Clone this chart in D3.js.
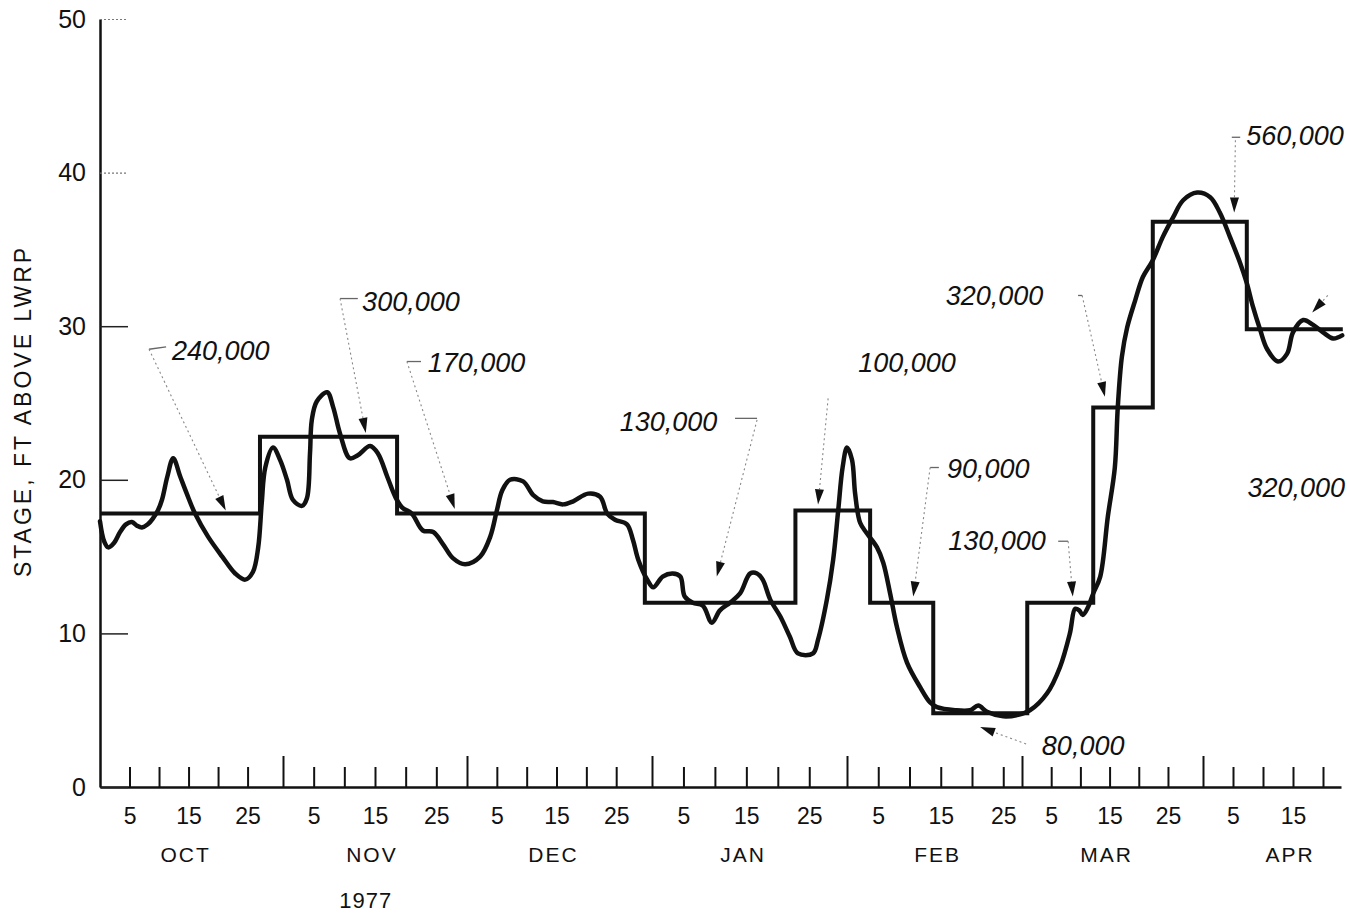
<!DOCTYPE html>
<html>
<head>
<meta charset="utf-8">
<script src="https://cdn.jsdelivr.net/npm/d3@7"></script>
<style>
  html, body { margin: 0; padding: 0; background: #fff; }
  svg { display: block; overflow: hidden; }
  text { font-family: "Liberation Sans", Arial, sans-serif; fill: #111; }
</style>
</head>
<body>
<svg id="chart" width="1350" height="916"></svg>
<script>
// season 1977-78, day 0 = Sep 30
const months = ['OCT', 'NOV', 'DEC', 'JAN', 'FEB', 'MAR', 'APR'];
const monthStart = [0, 31, 61, 92, 123, 151, 182];
const seasonEnd = 205; // Apr 23
const dayTicks = [5, 10, 15, 20, 25];
const dayLabels = [5, 15, 25];
const yTicks = [0, 10, 20, 30, 40, 50];
const yearLabel = '1977';

// observed stage hydrograph, [month, day, stage ft]
const stageCurve = [
  ['OCT', 0.0, 17.3], ['OCT', 0.7, 16.0], ['OCT', 1.4, 15.6], ['OCT', 2.4, 15.9], ['OCT', 3.4, 16.6],
  ['OCT', 4.4, 17.1], ['OCT', 5.4, 17.25], ['OCT', 6.3, 17.0], ['OCT', 7.1, 16.9], ['OCT', 8.1, 17.1],
  ['OCT', 9.0, 17.5], ['OCT', 9.8, 18.0], ['OCT', 10.5, 18.7], ['OCT', 11.4, 20.2], ['OCT', 12.4, 21.4],
  ['OCT', 13.6, 20.2], ['OCT', 14.7, 19.1], ['OCT', 16.1, 17.8], ['OCT', 18.3, 16.3], ['OCT', 20.7, 15.0],
  ['OCT', 22.9, 13.9], ['OCT', 24.6, 13.5], ['OCT', 25.9, 14.0], ['OCT', 26.8, 15.6], ['OCT', 27.4, 18.5],
  ['OCT', 28.0, 20.8], ['OCT', 29.3, 22.1], ['OCT', 30.5, 21.3],
  ['NOV', 0.65, 20.0], ['NOV', 1.6, 18.7], ['NOV', 3.1, 18.3], ['NOV', 3.9, 18.8], ['NOV', 4.4, 21.7],
  ['NOV', 4.7, 23.9], ['NOV', 5.5, 25.1], ['NOV', 7.2, 25.7], ['NOV', 8.2, 24.7], ['NOV', 9.3, 23.0],
  ['NOV', 10.9, 21.4], ['NOV', 12.2, 21.6], ['NOV', 14.2, 22.2], ['NOV', 15.5, 21.7], ['NOV', 17.0, 20.2],
  ['NOV', 18.3, 18.9], ['NOV', 19.4, 18.2], ['NOV', 21.0, 17.8], ['NOV', 22.8, 16.7], ['NOV', 24.5, 16.6],
  ['NOV', 26.1, 15.8], ['NOV', 27.7, 14.9], ['NOV', 29.7, 14.5],
  ['DEC', 2.2, 15.0], ['DEC', 3.9, 16.3], ['DEC', 5.0, 18.0], ['DEC', 5.9, 19.3], ['DEC', 7.2, 20.0],
  ['DEC', 9.4, 19.9], ['DEC', 11.1, 19.0], ['DEC', 12.7, 18.6], ['DEC', 14.4, 18.55], ['DEC', 16.1, 18.4],
  ['DEC', 17.8, 18.6], ['DEC', 20.3, 19.1], ['DEC', 22.3, 18.9], ['DEC', 23.5, 17.8], ['DEC', 24.8, 17.4],
  ['DEC', 26.8, 17.1], ['DEC', 27.8, 16.1], ['DEC', 28.7, 14.8], ['DEC', 30.2, 13.5],
  ['JAN', 0.2, 13.0], ['JAN', 1.7, 13.7], ['JAN', 3.3, 13.9], ['JAN', 4.5, 13.7], ['JAN', 5.2, 12.4],
  ['JAN', 6.5, 12.0], ['JAN', 8.1, 11.8], ['JAN', 9.5, 10.7], ['JAN', 10.8, 11.5], ['JAN', 12.4, 12.0],
  ['JAN', 14.0, 12.6], ['JAN', 15.6, 13.9], ['JAN', 16.7, 13.9], ['JAN', 17.6, 13.5], ['JAN', 18.8, 12.2],
  ['JAN', 20.4, 11.1], ['JAN', 21.9, 9.8], ['JAN', 23.2, 8.7], ['JAN', 25.6, 8.7], ['JAN', 26.4, 9.6],
  ['JAN', 27.8, 12.2], ['JAN', 28.8, 14.8], ['JAN', 29.6, 18.0], ['JAN', 30.3, 20.8],
  ['FEB', 0.0, 22.1], ['FEB', 0.8, 21.3], ['FEB', 1.3, 19.1], ['FEB', 2.1, 17.2], ['FEB', 3.2, 16.5],
  ['FEB', 4.8, 15.6], ['FEB', 5.8, 14.6], ['FEB', 6.9, 12.6], ['FEB', 8.0, 10.4], ['FEB', 9.6, 8.1],
  ['FEB', 11.7, 6.5], ['FEB', 13.3, 5.5], ['FEB', 14.4, 5.2], ['FEB', 17.3, 5.0], ['FEB', 19.7, 5.0],
  ['FEB', 21.0, 5.3], ['FEB', 22.4, 4.9], ['FEB', 25.0, 4.6], ['FEB', 27.4, 4.7],
  ['MAR', 1.4, 5.0], ['MAR', 4.3, 6.1], ['MAR', 6.5, 7.8], ['MAR', 8.2, 10.0], ['MAR', 9.1, 11.6],
  ['MAR', 9.8, 11.5], ['MAR', 10.4, 11.2], ['MAR', 11.3, 11.7], ['MAR', 12.2, 12.6], ['MAR', 13.4, 13.7],
  ['MAR', 14.7, 17.6], ['MAR', 15.9, 20.8], ['MAR', 16.4, 24.7], ['MAR', 17.1, 28.0], ['MAR', 18.0, 29.9],
  ['MAR', 19.4, 31.7], ['MAR', 20.7, 33.2], ['MAR', 22.4, 34.3], ['MAR', 24.1, 35.8], ['MAR', 25.9, 37.1],
  ['MAR', 27.6, 38.2], ['MAR', 30.0, 38.7],
  ['APR', 1.2, 38.4], ['APR', 2.8, 37.4], ['APR', 4.5, 35.8], ['APR', 6.2, 34.1], ['APR', 7.3, 32.8],
  ['APR', 8.3, 31.3], ['APR', 9.5, 29.8], ['APR', 10.7, 28.5], ['APR', 12.5, 27.7], ['APR', 14.0, 28.2],
  ['APR', 15.0, 29.6], ['APR', 16.7, 30.4], ['APR', 18.3, 30.1], ['APR', 20.0, 29.6], ['APR', 21.7, 29.2],
  ['APR', 23.2, 29.4]
];

// stepped stage for each steady-flow period
const stepStart = [
  ['OCT', 0], ['OCT', 27.1], ['NOV', 18.6], ['DEC', 29.8], ['JAN', 22.8], ['FEB', 3.7],
  ['FEB', 13.8], ['MAR', 0.9], ['MAR', 12.2], ['MAR', 22.4], ['APR', 7.3]
];
const stepEnd = ['APR', 23.3];
const stepStage = [17.8, 22.8, 17.8, 12.0, 18.0, 12.0, 4.8, 12.0, 24.7, 36.8, 29.8];

// discharge of each period, cfs
const flowLabels = ['240,000', '300,000', '170,000', '130,000', '100,000', '90,000',
  '130,000', '320,000', '560,000', '320,000', '80,000'];

// where each label and its pointer sit, in [month, day, stage]
const flowNotes = [
  { at: ['OCT', 12.2, 27.8], hook: [['OCT', 8.3, 28.5], ['OCT', 11.2, 28.65]], from: ['OCT', 8.3, 28.5], to: ['OCT', 21.3, 18.0] },
  { at: ['NOV', 12.9, 31.0], hook: [['NOV', 9.3, 31.8], ['NOV', 12.2, 31.8]], from: ['NOV', 9.3, 31.8], to: ['NOV', 13.5, 23.05] },
  { at: ['NOV', 23.6, 27.0], hook: [['NOV', 20.2, 27.7], ['NOV', 22.5, 27.7]], from: ['NOV', 20.2, 27.7], to: ['NOV', 28.0, 18.1] },
  { at: ['DEC', 25.6, 23.2], hook: [['JAN', 13.2, 24.0], ['JAN', 16.7, 24.0]], from: ['JAN', 16.7, 23.9], to: ['JAN', 10.3, 13.7] },
  { at: ['FEB', 1.8, 27.0], hook: null, from: ['JAN', 28.0, 25.3], to: ['JAN', 26.4, 18.4] },
  { at: ['FEB', 16.0, 20.1], hook: [['FEB', 13.3, 20.8], ['FEB', 14.7, 20.8]], from: ['FEB', 13.3, 20.8], to: ['FEB', 10.6, 12.4] },
  { at: ['FEB', 16.2, 15.4], hook: [['MAR', 6.2, 16.0], ['MAR', 7.9, 16.0]], from: ['MAR', 7.9, 16.0], to: ['MAR', 8.7, 12.4] },
  { at: ['FEB', 15.8, 31.4], hook: [['MAR', 9.6, 32.0], ['MAR', 10.3, 32.0]], from: ['MAR', 10.3, 32.0], to: ['MAR', 14.2, 25.4] },
  { at: ['APR', 7.2, 41.8], hook: [['APR', 4.8, 42.3], ['APR', 6.2, 42.3]], from: ['APR', 5.4, 42.1], to: ['APR', 5.2, 37.4] },
  { at: ['APR', 7.4, 18.9], hook: null, from: ['APR', 20.8, 32.0], to: ['APR', 18.2, 30.9] },
  { at: ['MAR', 3.4, 2.1], hook: null, from: ['MAR', 0.7, 2.8], to: ['FEB', 21.3, 3.9] }
];

const svg = d3.select('#chart');
svg.append('rect').attr('width', 1350).attr('height', 916).attr('fill', '#fff');

const x = d3.scaleLinear()
  .domain([...monthStart, seasonEnd])
  .range([100, 283, 467, 652, 847, 1022, 1203, 1341]);
const y = d3.scaleLinear().domain([0, 50]).range([787, 19]);

const day = (m, d) => monthStart[months.indexOf(m)] + d;
const pt = (p) => [x(day(p[0], p[1])), y(p[2])];

// x axis: 5-day ticks, taller ticks at month ends
const ticks = [];
months.forEach((m, i) => {
  const len = (i < months.length - 1 ? monthStart[i + 1] : seasonEnd) - monthStart[i];
  dayTicks.forEach((d) => { if (d < len) ticks.push({ v: monthStart[i] + d, d: d, major: false }); });
  if (i < months.length - 1) ticks.push({ v: monthStart[i + 1], d: null, major: true });
});

const xAxis = svg.append('g')
  .attr('transform', `translate(0,${y(0)})`)
  .call(d3.axisBottom(x)
    .tickValues(ticks.map((t) => t.v))
    .tickSize(-20)
    .tickSizeOuter(0)
    .tickPadding(21)
    .tickFormat((v) => {
      const t = ticks.find((k) => k.v === v);
      return t && dayLabels.includes(t.d) ? t.d : '';
    }));
xAxis.select('.domain').attr('stroke', '#111').attr('stroke-width', 2.5);
xAxis.selectAll('.tick line')
  .attr('stroke', '#111').attr('stroke-width', 2)
  .attr('y2', (v) => (ticks.find((k) => k.v === v).major ? -31 : -20));
xAxis.selectAll('.tick text')
  .attr('font-size', 23).attr('font-family', '"Liberation Sans", Arial, sans-serif').attr('fill', '#111');

// month names under the day labels
svg.append('g').selectAll('text')
  .data(months)
  .join('text')
  .attr('x', (m) => x(day(m, 14.5)))
  .attr('y', 862)
  .attr('text-anchor', 'middle')
  .attr('font-size', 21)
  .attr('letter-spacing', 2)
  .text((m) => m);

svg.append('text')
  .attr('x', x(day('NOV', 13.5)))
  .attr('y', 908)
  .attr('text-anchor', 'middle')
  .attr('font-size', 22)
  .attr('letter-spacing', 1)
  .text(yearLabel);

// y axis
const yAxis = svg.append('g')
  .attr('transform', `translate(${x(0)},0)`)
  .call(d3.axisLeft(y).tickValues(yTicks).tickSize(-28).tickSizeOuter(0).tickPadding(14));
yAxis.select('.domain').attr('stroke', '#111').attr('stroke-width', 2.5);
yAxis.selectAll('.tick line')
  .attr('stroke', (v) => (v >= 40 ? '#777' : '#222'))
  .attr('stroke-width', (v) => (v >= 40 ? 1.2 : 1.5))
  .attr('stroke-dasharray', (v) => (v >= 40 ? '2 2' : null));
yAxis.selectAll('.tick text')
  .attr('font-size', 25).attr('font-family', '"Liberation Sans", Arial, sans-serif').attr('fill', '#111');

svg.append('text')
  .attr('transform', `translate(31,411) rotate(-90)`)
  .attr('text-anchor', 'middle')
  .attr('font-size', 23)
  .attr('letter-spacing', 3)
  .text('STAGE, FT ABOVE LWRP');

// stepped mean stage
const steps = stepStart.map((s, i) => [s[0], s[1], stepStage[i]]);
steps.push([stepEnd[0], stepEnd[1], stepStage[stepStage.length - 1]]);
svg.append('path')
  .datum(steps)
  .attr('fill', 'none')
  .attr('stroke', '#111')
  .attr('stroke-width', 4)
  .attr('d', d3.line().x((d) => pt(d)[0]).y((d) => pt(d)[1]).curve(d3.curveStepAfter));

// observed stage
svg.append('path')
  .datum(stageCurve)
  .attr('fill', 'none')
  .attr('stroke', '#111')
  .attr('stroke-width', 4.5)
  .attr('stroke-linejoin', 'round')
  .attr('stroke-linecap', 'round')
  .attr('d', d3.line().x((d) => pt(d)[0]).y((d) => pt(d)[1]).curve(d3.curveCatmullRom.alpha(0.5)));

// discharge labels with their pointers
const notes = svg.append('g');
flowNotes.forEach((n, i) => {
  const a = pt(n.at);
  notes.append('text')
    .attr('x', a[0]).attr('y', a[1])
    .attr('font-size', 27)
    .attr('font-style', 'italic')
    .attr('fill', '#1a1a1a')
    .text(flowLabels[i]);

  if (n.hook) {
    const h0 = pt(n.hook[0]), h1 = pt(n.hook[1]);
    notes.append('line')
      .attr('x1', h0[0]).attr('y1', h0[1]).attr('x2', h1[0]).attr('y2', h1[1])
      .attr('stroke', '#666').attr('stroke-width', 1.3);
  }

  const s = pt(n.from), t = pt(n.to);
  const dx = t[0] - s[0], dy = t[1] - s[1];
  const len = Math.hypot(dx, dy);
  const ux = dx / len, uy = dy / len;
  const L = Math.min(15, len), w = 4.5;
  const bx = t[0] - ux * L, by = t[1] - uy * L;
  notes.append('line')
    .attr('x1', s[0]).attr('y1', s[1]).attr('x2', bx).attr('y2', by)
    .attr('stroke', '#888').attr('stroke-width', 1.1).attr('stroke-dasharray', '2 3');
  notes.append('path')
    .attr('d', `M${t[0]},${t[1]}L${bx - uy * w},${by + ux * w}L${bx + uy * w},${by - ux * w}Z`)
    .attr('fill', '#111');
});
</script>
</body>
</html>
